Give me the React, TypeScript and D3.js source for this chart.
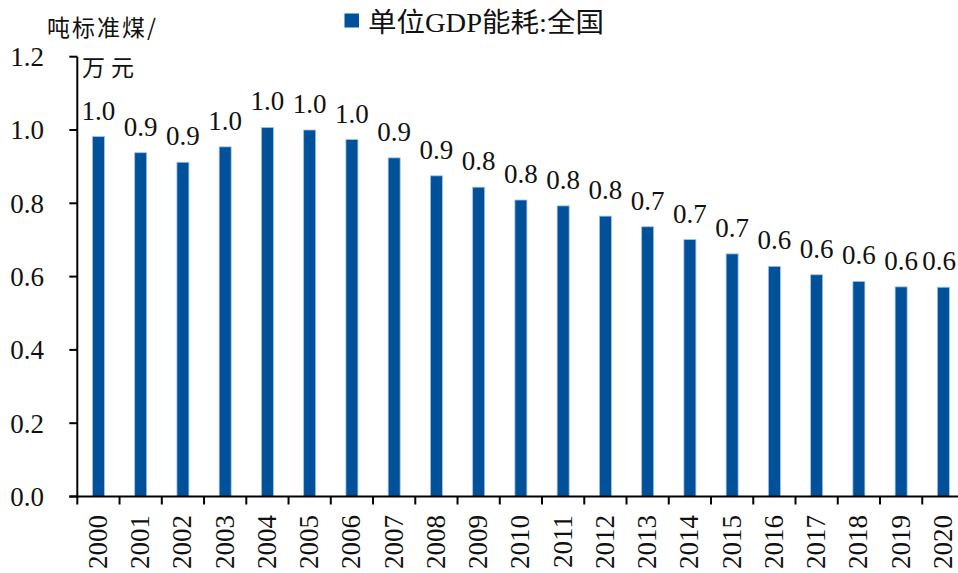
import React from "react";
import * as d3 from "d3";

const years = ["2000","2001","2002","2003","2004","2005","2006","2007","2008","2009","2010","2011","2012","2013","2014","2015","2016","2017","2018","2019","2020"];
const values = [0.982,0.938,0.912,0.954,1.007,1.0,0.974,0.924,0.875,0.844,0.809,0.793,0.765,0.736,0.701,0.662,0.628,0.605,0.587,0.572,0.571];
const yTicks = [0, 0.2, 0.4, 0.6, 0.8, 1.0, 1.2];
const seriesName = "单位GDP能耗:全国";
const unitLine1 = "吨标准煤/";
const unitLine2 = "万元";

const W = 958, H = 573;
const BAR = "#00509A";
const FONT = "'Liberation Serif', 'Times New Roman', 'Noto Sans CJK SC', serif";
const CJK = "'Noto Sans CJK SC', sans-serif";

export default function App() {
  const x = d3.scaleBand<string>().domain(years).range([77.3, 964.5]).padding(0);
  const y = d3.scaleLinear().domain([0, 1.2]).range([496.5, 56.7]);
  const step = x.step();
  const bw = 12;
  const x0 = 77.3;
  const yBase = y(0);

  return (
    <svg width={W} height={H} style={{ position: "absolute", left: 0, top: 0, display: "block", background: "#fff" }}>
      {/* legend */}
      <rect x={344.5} y={13.5} width={14.5} height={14} fill={BAR} />
      <text x={368} y={31.5} fontFamily={FONT} fontSize={27} fill="#111" textLength={236} lengthAdjust="spacingAndGlyphs">{seriesName}</text>

      {/* unit */}
      <text x={47} y={36} fontFamily={CJK} fontSize={23} fill="#111" letterSpacing={2}>{unitLine1}</text>
      <text x={82} y={76} fontFamily={CJK} fontSize={23} fill="#111" letterSpacing={6}>{unitLine2}</text>

      {/* bars */}
      {years.map((yr, i) => {
        const cx = (x(yr) as number) + step / 2;
        const v = values[i];
        const lx = Math.min(cx, W - 19);
        return (
          <g key={yr}>
            <rect x={cx - bw / 2} y={y(v)} width={bw} height={yBase - y(v)} fill={BAR} stroke="#a6c2e4" strokeWidth={0.8} />
            <text x={lx} y={y(v) - 17} textAnchor="middle" fontFamily={FONT} fontSize={27} fill="#111">{v.toFixed(1)}</text>
          </g>
        );
      })}

      {/* y axis */}
      <line x1={x0} x2={x0} y1={y(1.2)} y2={yBase + 1} stroke="#000" strokeWidth={2} />
      {yTicks.map(t => (
        <g key={t}>
          <line x1={x0 - 8} x2={x0} y1={y(t)} y2={y(t)} stroke="#000" strokeWidth={2} />
          <text x={44} y={y(t)} dy="0.35em" textAnchor="end" fontFamily={FONT} fontSize={27} fill="#111">{t.toFixed(1)}</text>
        </g>
      ))}

      {/* x axis */}
      <line x1={x0 - 8} x2={W} y1={yBase} y2={yBase} stroke="#000" strokeWidth={2} />
      {years.map((yr) => {
        const bx = x(yr) as number;
        return (
          <line key={"t" + yr} x1={bx} x2={bx} y1={yBase} y2={yBase + 8} stroke="#000" strokeWidth={2} />
        );
      })}
      {years.map(yr => {
        const cx = (x(yr) as number) + step / 2;
        return (
          <text key={"l" + yr} transform={`translate(${cx - 1},515) rotate(-90)`} dy="0.35em" textAnchor="end" fontFamily={FONT} fontSize={27} fill="#111">{yr}</text>
        );
      })}
    </svg>
  );
}
